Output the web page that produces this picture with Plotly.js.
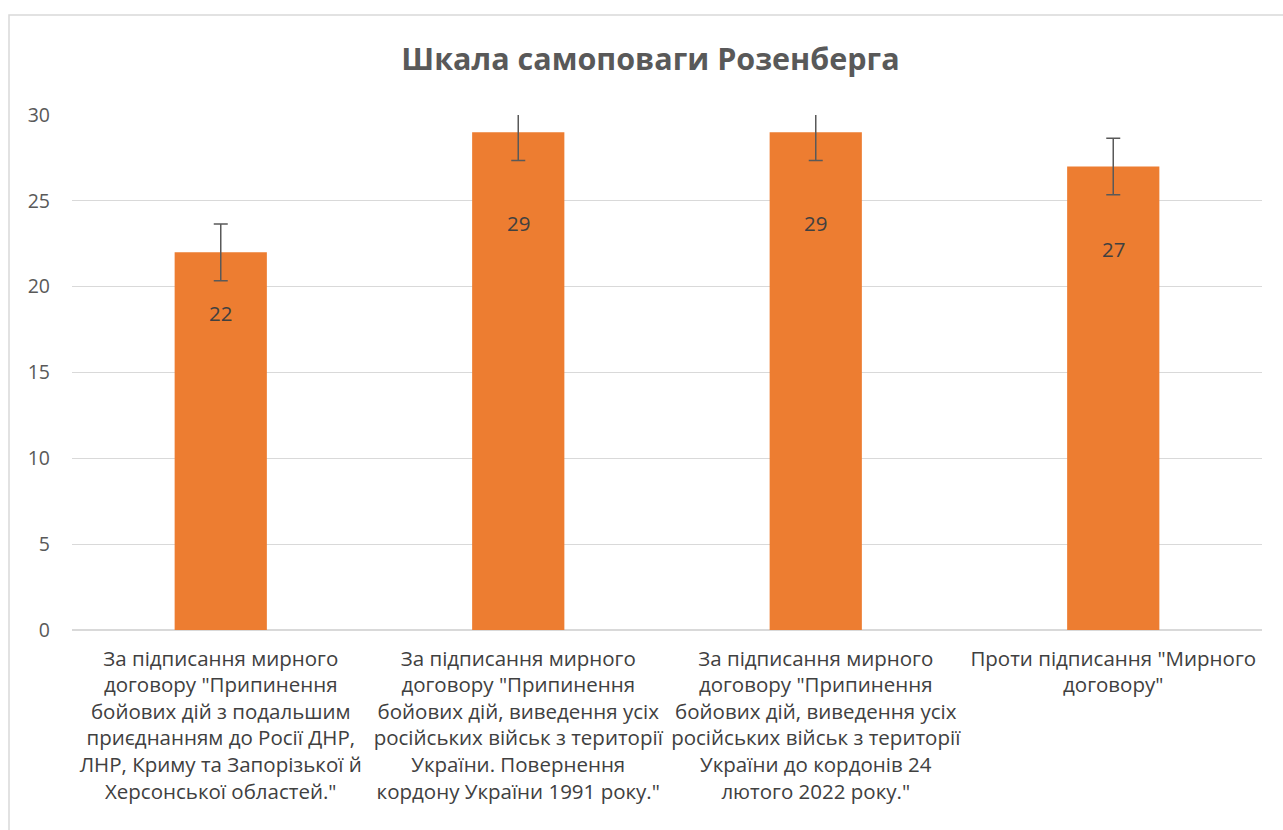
<!DOCTYPE html>
<html>
<head>
<meta charset="utf-8">
<script src="https://cdn.plot.ly/plotly-3.0.1.min.js"></script>
<style>html,body{margin:0;padding:0;background:#fff;}#chart{width:1283px;height:830px;}</style>
</head>
<body>
<div id="chart"></div>
<script>
const categories = [
  'За підписання мирного<br>договору "Припинення<br>бойових дій з подальшим<br>приєднанням до Росії ДНР,<br>ЛНР, Криму та Запорізької й<br>Херсонської областей."',
  'За підписання мирного<br>договору "Припинення<br>бойових дій, виведення усіх<br>російських військ з території<br>України. Повернення<br>кордону України 1991 року."',
  'За підписання мирного<br>договору "Припинення<br>бойових дій, виведення усіх<br>російських військ з території<br>України до кордонів 24<br>лютого 2022 року."',
  'Проти підписання "Мирного<br>договору"'
];
const values = [22, 29, 29, 27];
const errors = [1.65, 1.65, 1.65, 1.65];
const yTicks = [0, 5, 10, 15, 20, 25, 30];
const labelShift = [45, 75, 75, 66];

const FONT = 'Open Sans, Liberation Sans, sans-serif';

const trace = {
  type: 'bar',
  x: categories,
  y: values,
  marker: {color: '#ED7D31'},
  error_y: {type: 'data', array: errors, visible: true, color: '#595959', thickness: 1.5, width: 7},
  hoverinfo: 'none'
};

const annotations = values.map((v, i) => ({
  x: categories[i], y: v, xref: 'x', yref: 'y',
  text: String(v), showarrow: false, yanchor: 'top', yshift: -labelShift[i],
  font: {family: FONT, size: 20.5, color: '#404040'}
}));

const layout = {
  width: 1283, height: 830,
  margin: {l: 72, r: 21, t: 115, b: 200},
  paper_bgcolor: '#fff', plot_bgcolor: '#fff',
  showlegend: false,
  bargap: 0.69,
  title: {text: '<b>Шкала самоповаги Розенберга</b>', x: 0.507, xanchor: 'center', y: 0.928, yanchor: 'middle',
          font: {family: FONT, size: 30.5, color: '#595959'}},
  xaxis: {
    type: 'category', showgrid: false, showline: false, zeroline: false, ticks: '',
    ticklabelstandoff: 14,
    tickfont: {family: FONT, size: 20.5, color: '#404040'}, tickangle: 0, automargin: false
  },
  yaxis: {
    range: [0, 30], tickvals: yTicks, ticktext: yTicks.map(String),
    showgrid: true, gridcolor: '#D9D9D9', gridwidth: 1.3, zeroline: true, zerolinecolor: '#D9D9D9', zerolinewidth: 1.3,
    showline: false, ticks: '', ticklabelstandoff: 21,
    tickfont: {family: FONT, size: 19.5, color: '#595959'}, automargin: false
  },
  annotations: annotations,
  shapes: [{
    type: 'rect', xref: 'paper', yref: 'paper',
    x0: (9 - 72) / 1190, x1: (1300 - 72) / 1190,
    y0: (630 - 850) / 515, y1: (630 - 15) / 515,
    line: {color: '#D9D9D9', width: 1.5}, fillcolor: 'rgba(0,0,0,0)', layer: 'below'
  }]
};

Plotly.newPlot('chart', [trace], layout, {displayModeBar: false, staticPlot: true});
</script>
</body>
</html>
